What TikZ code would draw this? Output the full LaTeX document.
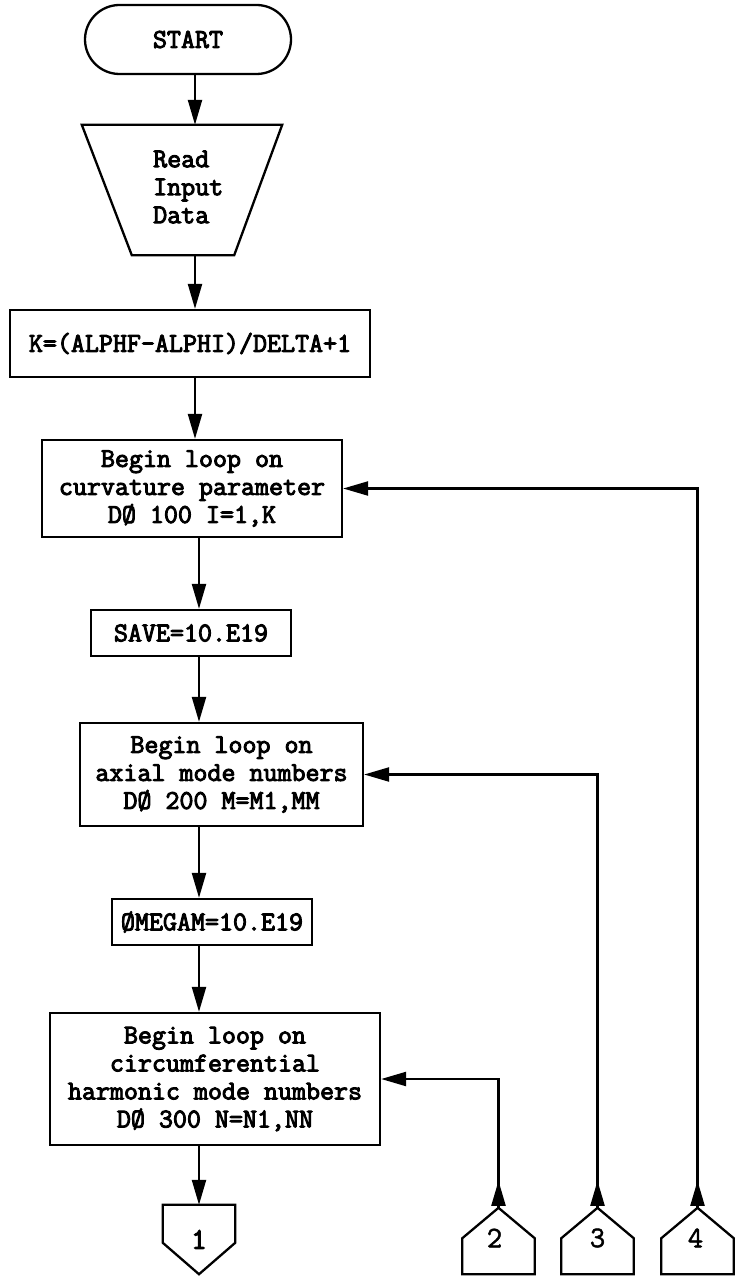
\documentclass[tikz,border=0pt]{standalone}
\usepackage{fontspec}
\newfontfamily\tw[FakeBold=3.5]{Latin Modern Mono}
\newfontfamily\twl[FakeBold=1.5]{Latin Modern Mono}
\usetikzlibrary{arrows.meta,calc}
\begin{document}
\begin{tikzpicture}[x=1pt,y=-1pt,
  ln/.style={line width=2.3pt},
  arr/.style={ln,-{Triangle[length=25pt,width=14pt]}},
  txt/.style={font=\tw\fontsize{27.2}{28}\selectfont},
  box/.style={draw,ln,inner sep=0pt,align=center,txt},
  conn/.style={inner sep=0pt,font=\twl\fontsize{30}{30}\selectfont}]
\useasboundingbox (0,0) rectangle (737,1276);

% main column
\node[box, minimum width=206pt, minimum height=69pt, rounded corners=34.5pt] (start) at (188,39.5) {START};

\node[inner sep=0pt, minimum width=200pt, minimum height=130pt] (read) at (182,190) {};
\draw[ln] (read.north west) -- (read.north east) -- ($(read.south east)+(-48,0)$)
  -- ($(read.south west)+(50,0)$) -- cycle;
\node[txt, anchor=west, align=left, inner sep=0pt] (readtxt) at (153,187) {Read\\Input\\Data};

\node[box, minimum width=360pt, minimum height=67pt] (k) at (190,343.5) {K=(ALPHF-ALPHI)/DELTA+1};
\node[box, minimum width=300pt, minimum height=97pt] (loop1) at (192,488.5) {Begin loop on\\curvature parameter\\DØ 100 I=1,K};
\node[box, minimum width=200pt, minimum height=46pt] (save) at (191,633) {SAVE=10.E19};
\node[box, minimum width=283pt, minimum height=103pt] (loop2) at (221.5,774.5) {Begin loop on\\axial mode numbers\\DØ 200 M=M1,MM};
\node[box, minimum width=200pt, minimum height=46pt] (omega) at (212,922) {ØMEGAM=10.E19};
\node[box, minimum width=330pt, minimum height=132pt] (loop3) at (215,1079) {Begin loop on\\circumferential\\harmonic mode numbers\\DØ 300 N=N1,NN};

% off-page connectors
\node[conn, font=\tw\fontsize{30}{30}\selectfont, minimum width=72pt, minimum height=69pt] (c1) at (199,1239.5) {1};
\draw[ln] (c1.north west) -- (c1.north east) -- ($(c1.north east)+(0,38)$) -- (c1.south)
  -- ($(c1.north west)+(0,38)$) -- cycle;
\foreach \n/\x in {c2/498.5, c3/597.5, c4/697.5}{
  \node[conn, minimum width=72pt, minimum height=66pt] (\n) at (\x,1241) {};
  \draw[ln] (\n.north) -- ($(\n.south east)+(0,-36)$) -- (\n.south east) -- (\n.south west)
    -- ($(\n.south west)+(0,-36)$) -- cycle;
}
\node[conn] at ($(c2.center)+(-4,-3)$) {2};
\node[conn] at ($(c3.center)+(0,-3)$) {3};
\node[conn] at ($(c4.center)+(-2,-3)$) {4};

% main flow arrows
\coordinate (colA) at (195,0);
\coordinate (colB) at (199,0);
\draw[arr] (start.south -| colA) -- (read.north -| colA);
\draw[arr] (read.south -| colA) -- (k.north -| colA);
\draw[arr] (k.south -| colA) -- (loop1.north -| colA);
\draw[arr] (loop1.south -| colB) -- (save.north -| colB);
\draw[arr] (save.south -| colB) -- (loop2.north -| colB);
\draw[arr] (loop2.south -| colB) -- (omega.north -| colB);
\draw[arr] (omega.south -| colB) -- (loop3.north -| colB);
\draw[arr] (loop3.south -| colB) -- (c1.north -| colB);

% return lines
\foreach \n/\t in {c2/loop3, c3/loop2, c4/loop1}{
  \draw[arr] (\n.north) -- ++(0,-27);
  \draw[arr] (\n.north) |- (\t.east);
}
\end{tikzpicture}
\end{document}
